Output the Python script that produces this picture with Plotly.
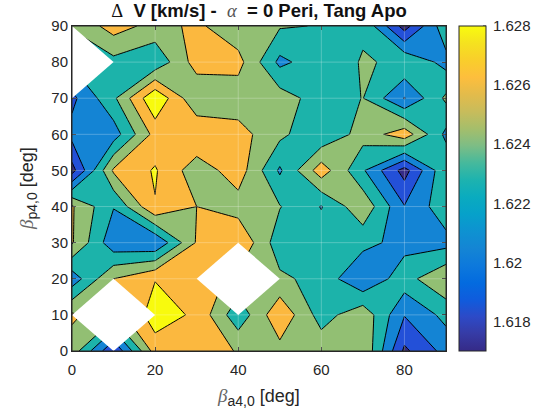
import plotly.graph_objects as go

x_vals = [0, 10, 20, 30, 40, 50, 60, 70, 80, 90]
y_vals = [0, 10, 20, 30, 40, 50, 60, 70, 80, 90]
row_y0 = [1.6252, 1.6181, 1.6269, 1.6268, 1.6259, 1.6253, 1.6253, 1.6259, 1.6176, 1.6207]
row_y10 = [1.6263, None, 1.6291, 1.6276, 1.6226, 1.6276, 1.6231, 1.6254, 1.6201, 1.6226]
row_y20 = [1.6208, 1.626, 1.6279, 1.627, None, 1.6244, 1.6233, 1.6201, 1.6232, 1.6258]
row_y30 = [1.6262, 1.6206, 1.6201, 1.6262, 1.6279, 1.6228, 1.623, 1.6226, 1.6213, 1.6213]
row_y40 = [1.6262, 1.6221, 1.6279, 1.626, 1.6251, 1.6241, 1.6219, 1.6255, 1.6201, 1.6233]
row_y50 = [1.6172, 1.6263, 1.6282, 1.6248, 1.6271, 1.6217, 1.6271, 1.62225, 1.6172, 1.6237]
row_y60 = [1.6207, 1.621, 1.6267, 1.6279, 1.6268, 1.6245, 1.6223, 1.6248, 1.6272, 1.6215]
row_y70 = [1.6195, 1.6236, 1.6298, 1.6242, 1.6248, 1.625, 1.623, 1.62405, 1.6199, 1.6244]
row_y80 = [None, 1.6234, 1.6224, 1.6269, 1.6267, 1.6215, 1.6232, 1.6241, 1.6238, 1.6213]
row_y90 = [1.6242, 1.6269, 1.6253, 1.6264, 1.6246, 1.6242, 1.6239, 1.6238, 1.6171, 1.6234]
z_rows = [row_y0, row_y10, row_y20, row_y30, row_y40, row_y50, row_y60, row_y70, row_y80, row_y90]

x_ticks = [0, 20, 40, 60, 80]
y_ticks = [0, 10, 20, 30, 40, 50, 60, 70, 80, 90]
cbar_ticks = [1.618, 1.62, 1.622, 1.624, 1.626, 1.628]
cbar_labels = ["1.618", "1.62", "1.622", "1.624", "1.626", "1.628"]
cbar_range = [1.617, 1.628]

band_colors = ["#352a87", "#2350d8", "#1484d4", "#1cb3aa", "#92bf73", "#fbb83f", "#f8fa0d"]
parula = [
    "#352a87", "#363ba5", "#2d4ac7", "#0f5cdd", "#036bdf", "#0d79dc", "#1485d4", "#0e92d1",
    "#06a1ca", "#0aabbf", "#1db3af", "#46b99c", "#7dbd85", "#a5be6b", "#c8bc5b", "#e3bb4b",
    "#fdbe3d", "#f9ce2b", "#f5e21f", "#f9fb0e",
]
W, H = 543, 419
L, R, T, B = 72, 446, 26, 351
CB_L, CB_R = 459, 486
INK = "#262626"

def px(v):
    return v / W

def py(v):
    return 1 - v / H

band_scale = [[i / (len(band_colors) - 1), c] for i, c in enumerate(band_colors)]
bar_scale = [[i / (len(parula) - 1), c] for i, c in enumerate(parula)]

fig = go.Figure()
fig.add_trace(go.Contour(
    x=x_vals, y=y_vals, z=z_rows,
    colorscale=band_scale, showscale=False, connectgaps=False, hoverongaps=False,
    autocontour=False,
    contours=dict(start=1.618, end=1.628, size=0.002, coloring="fill", showlines=True),
    line=dict(color="#000000", width=1, smoothing=0),
))
fig.add_trace(go.Scatter(
    x=[None], y=[None], mode="markers", showlegend=False,
    marker=dict(
        color=cbar_range, cmin=cbar_range[0], cmax=cbar_range[1], colorscale=bar_scale, showscale=True,
        colorbar=dict(
            x=px(CB_L), xanchor="left", thickness=CB_R - CB_L, thicknessmode="pixels",
            lenmode="pixels", len=B - T, y=py(B), yanchor="bottom",
            xpad=0, ypad=0, ticks="outside", ticklen=4, tickcolor="rgba(0,0,0,0)", tickwidth=1,
            tickvals=cbar_ticks, ticktext=cbar_labels, outlinecolor=INK, outlinewidth=1,
            tickfont=dict(family="Liberation Sans", size=15, color=INK),
        ),
    ),
))

axis_style = dict(
    showgrid=False, zeroline=False, showline=True, linecolor=INK, linewidth=1, mirror="ticks",
    ticks="inside", ticklen=4, tickcolor=INK, tickwidth=1,
    tickfont=dict(family="Liberation Sans", size=15, color=INK),
)
fig.update_xaxes(domain=[px(L), px(R)], range=[0, 90], tickmode="array", tickvals=x_ticks,
                 ticklabelstandoff=5, **axis_style)
fig.update_yaxes(domain=[py(B), py(T)], range=[0, 90], tickmode="array", tickvals=y_ticks, **axis_style)

shapes = []
# Gaps in the data: white diamonds reaching the neighbouring grid points.
dx = x_vals[1] - x_vals[0]
dy = y_vals[1] - y_vals[0]
for j, row in enumerate(z_rows):
    for i, value in enumerate(row):
        if value is None:
            xc, yc = x_vals[i], y_vals[j]
            shapes.append(dict(
                type="path", xref="x", yref="y", layer="above",
                path=f"M {xc - dx} {yc} L {xc} {yc + dy} L {xc + dx} {yc} L {xc} {yc - dy} Z",
                fillcolor="white", line=dict(width=0),
            ))
for v in x_ticks[1:]:
    shapes.append(dict(type="line", xref="x", yref="y domain", x0=v, x1=v, y0=0, y1=1, layer="above",
                       line=dict(color="rgba(255,255,255,0.25)", width=1)))
for v in y_ticks[1:-1]:
    shapes.append(dict(type="line", xref="x domain", yref="y", x0=0, x1=1, y0=v, y1=v, layer="above",
                       line=dict(color="rgba(255,255,255,0.25)", width=1)))
shapes.append(dict(type="rect", xref="x domain", yref="y domain", x0=0, x1=1, y0=0, y1=1, layer="above",
                   fillcolor="rgba(0,0,0,0)", line=dict(color=INK, width=1)))
for v in cbar_ticks:
    yp = py(B) + (v - cbar_range[0]) / (cbar_range[1] - cbar_range[0]) * (B - T) / H
    shapes.append(dict(type="line", xref="paper", yref="paper", x0=px(CB_R - 3), x1=px(CB_R), y0=yp, y1=yp,
                       layer="above", line=dict(color=INK, width=1)))

label_font = dict(family="Liberation Sans", size=18, color=INK)
beta = '<span style="font-family:Liberation Serif;font-style:italic;color:#666666;font-size:19px">β</span>'
def sub(t):
    return f'<sub><span style="font-size:14px">{t}</span></sub>'
annotations = [
    dict(text=f"{beta}{sub('a4,0')} [deg]", x=px(258), y=py(397), xref="paper", yref="paper",
         showarrow=False, font=label_font, xanchor="center", yanchor="middle"),
    dict(text=f"{beta}{sub('p4,0')} [deg]", x=px(28), y=py(189), xref="paper", yref="paper",
         showarrow=False, font=label_font, textangle=-90, xanchor="center", yanchor="middle"),
]

delta = '<span style="font-family:Liberation Serif;font-weight:normal">Δ</span>'
alpha = '<span style="font-family:Liberation Serif;font-style:italic;font-weight:normal;color:#555555">α</span>'
fig.update_layout(
    width=W, height=H, autosize=False, margin=dict(l=0, r=0, t=0, b=0, autoexpand=False),
    paper_bgcolor="white", plot_bgcolor="white", showlegend=False,
    shapes=shapes, annotations=annotations,
    title=dict(
        text=f'<b>{delta}&nbsp; V [km/s] - &nbsp;</b>{alpha}<b>&nbsp; = 0 Peri, Tang Apo</b>',
        x=px(259), xanchor="center", xref="paper", y=py(11), yanchor="middle", yref="paper",
        font=dict(family="Liberation Sans", size=18.5, color="#111111"),
    ),
)
fig.write_html("out.html", config={"displayModeBar": False},
               post_script="document.body.style.margin='0';document.body.style.overflow='hidden';")
